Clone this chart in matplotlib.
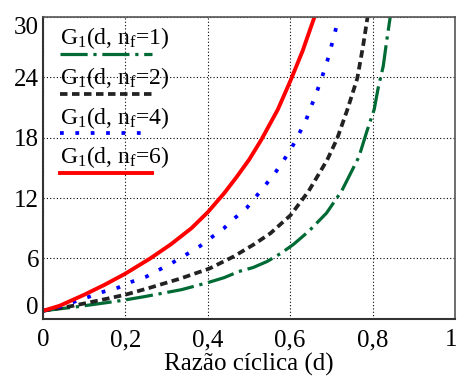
import numpy as np
import matplotlib
matplotlib.use("Agg")
import matplotlib.pyplot as plt
import matplotlib.transforms as mtransforms
from matplotlib.lines import Line2D
from matplotlib.legend_handler import HandlerLine2D

plt.rcParams['font.family'] = ['Liberation Serif', 'DejaVu Serif']
plt.rcParams['mathtext.fontset'] = 'custom'
plt.rcParams['mathtext.rm'] = 'Liberation Serif'
plt.rcParams['mathtext.it'] = 'Liberation Serif:italic'

# values
d_nf1 = [0, 0.082, 0.135, 0.187, 0.245, 0.297, 0.336, 0.40, 0.44, 0.475, 0.51, 0.544,
         0.577, 0.608, 0.645, 0.688, 0.725, 0.767, 0.786, 0.804, 0.814, 0.826, 0.834, 0.843]
g_nf1 = [0.8, 1.2, 1.5, 1.8, 2.2, 2.6, 2.9, 3.6, 4.1, 4.7, 5.1, 5.7,
         6.5, 7.4, 8.7, 10.5, 12.7, 16.1, 18.6, 20.8, 23.0, 25.1, 27.5, 30.0]

d_nf2 = [0, 0.073, 0.155, 0.2, 0.26, 0.333, 0.404, 0.463, 0.512, 0.552, 0.601, 0.645,
         0.69, 0.714, 0.739, 0.763, 0.777, 0.788]
g_nf2 = [0.8, 1.3, 2.0, 2.4, 3.1, 4.0, 5.0, 6.2, 7.4, 8.5, 10.3, 12.7,
         15.8, 17.9, 20.8, 23.9, 27.1, 30.0]

d_nf4 = [0, 0.04, 0.076, 0.112, 0.147, 0.182, 0.216, 0.251, 0.283, 0.315, 0.348, 0.38,
         0.409, 0.439, 0.465, 0.494, 0.518, 0.542, 0.565, 0.585, 0.605, 0.623, 0.639,
         0.652, 0.666, 0.678, 0.69, 0.70, 0.709, 0.718]
g_nf4 = [0.8, 1.2, 1.7, 2.2, 2.7, 3.1, 3.7, 4.2, 4.9, 5.6, 6.4, 7.2,
         8.1, 9.0, 10.0, 11.0, 12.2, 13.4, 14.6, 15.8, 17.1, 18.5, 19.8,
         21.2, 22.7, 24.1, 25.6, 27.1, 28.5, 30.0]

d_nf6 = [0, 0.04, 0.1, 0.15, 0.2, 0.26, 0.31, 0.36, 0.40, 0.44, 0.47, 0.50, 0.53,
         0.57, 0.60, 0.63, 0.659]
g_nf6 = [0.8, 1.3, 2.4, 3.4, 4.5, 6.0, 7.4, 9.0, 10.6, 12.5, 14.1, 15.8, 17.8,
         20.8, 23.6, 26.6, 30.0]

x_ticks = [0, 0.2, 0.4, 0.6, 0.8, 1]
x_ticklabels = ['0', '0,2', '0,4', '0,6', '0,8', '1']
y_ticks = [0, 6, 12, 18, 24, 30]
labels = [r'G$\mathregular{_1}$(d, n$\mathregular{_f}$=%d)' % n for n in (1, 2, 4, 6)]


class HandleBelow(HandlerLine2D):
    # draw the legend sample under its label
    def create_artists(self, legend, orig_handle, xdescent, ydescent,
                       width, height, fontsize, trans):
        arts = super().create_artists(legend, orig_handle, xdescent, ydescent,
                                      width, height, fontsize, trans)
        for a in arts:
            a.set_ydata(np.asarray(a.get_ydata()) - 0.75 * fontsize)
        return arts


fig = plt.figure(figsize=(4.59, 3.76), dpi=100)
ax = fig.add_axes([0.094, 0.152, 0.897, 0.803])

ax.plot(d_nf1, g_nf1, color='#006a35', lw=2.3, ls=(0, (8.5, 1.8, 1, 1.8)), label=labels[0])
ax.plot(d_nf2, g_nf2, color='#222222', lw=2.7, ls=(0, (2.0, 1.2)), label=labels[1])
ax.plot(d_nf4, g_nf4, color='#0000ff', lw=2.7, ls=(0, (1, 3.1)), label=labels[2])
ax.plot(d_nf6, g_nf6, color='#ff0000', lw=2.8, ls='-', label=labels[3])

ax.set_xlim(0, 1)
ax.set_ylim(0, 30)
ax.set_xticks(x_ticks)
ax.set_xticklabels(x_ticklabels)
ax.set_yticks(y_ticks)
ax.tick_params(length=0, labelsize=18)
ax.tick_params(axis='y', pad=3)
ax.tick_params(axis='x', pad=7.5)
ylab = ax.get_yticklabels()
ylab[0].set_va('bottom')
ylab[-1].set_va('top')
xlab = ax.get_xticklabels()
xlab[-1].set_transform(xlab[-1].get_transform() +
                       mtransforms.ScaledTranslation(-4 / 100, 0, fig.dpi_scale_trans))

ax.grid(True, color='black', ls=(0, (1, 2)), lw=0.8)
ax.set_axisbelow(True)
for s in ['left', 'bottom']:
    ax.spines[s].set_linewidth(1.5)
    ax.spines[s].set_color('#333333')
for s in ['top', 'right']:
    ax.spines[s].set_linewidth(1.2)
    ax.spines[s].set_color('#555555')

ax.set_xlabel('Razão cíclica (d)', fontsize=18, labelpad=1)

ax.legend(handler_map={Line2D: HandleBelow()}, loc='upper left', frameon=False,
          fontsize=17, handlelength=3.9, handletextpad=-3.9, labelspacing=0.58,
          borderaxespad=0, bbox_to_anchor=(0.019, 1.003))

fig.savefig('out.png', dpi=100)
